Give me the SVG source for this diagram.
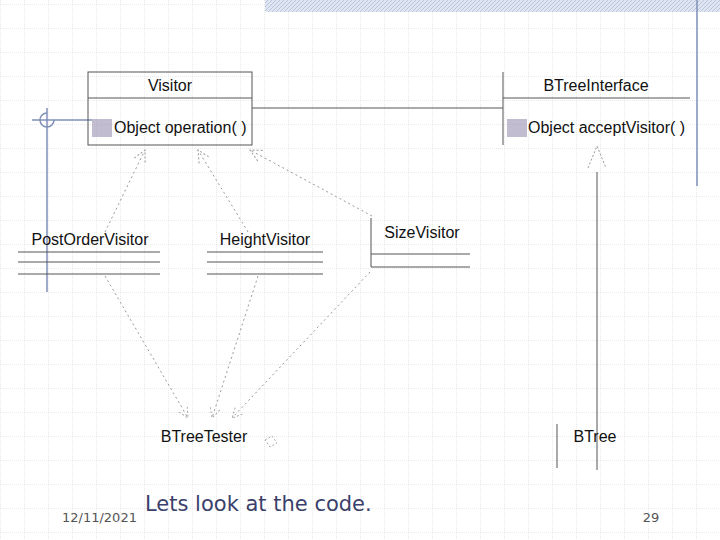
<svg xmlns="http://www.w3.org/2000/svg" width="720" height="540" viewBox="0 0 720 540">
<defs>
<pattern id="grid" width="24" height="24" patternUnits="userSpaceOnUse" x="0" y="4">
<path d="M0 0H24M0 0V24" fill="none" stroke="#d6d6d6" stroke-width="1" stroke-dasharray="1 1"/>
</pattern>
<pattern id="hatch" width="4" height="4" patternUnits="userSpaceOnUse">
<rect width="4" height="4" fill="#dfe6f2"/><path d="M0 4L4 0" stroke="#b9c6de" stroke-width="1"/>
</pattern>
<marker id="tri" markerWidth="14" markerHeight="14" refX="13" refY="7" orient="auto" markerUnits="userSpaceOnUse">
<path d="M1 1L13 7L1 13" fill="none" stroke="#999" stroke-dasharray="2 2"/>
</marker>
<marker id="open" markerWidth="12" markerHeight="12" refX="11" refY="6" orient="auto" markerUnits="userSpaceOnUse">
<path d="M1 1L11 6L1 11" fill="none" stroke="#aaa" stroke-dasharray="2 2"/>
</marker>
</defs>
<style>
.t{font-family:"Liberation Sans",Arial,sans-serif;font-size:16px;fill:#111}
.ln{stroke:#555;stroke-width:1;fill:none}
.dash{stroke:#999;stroke-width:1;fill:none;stroke-dasharray:2 3}
.blue{stroke:#7f8fb8;stroke-width:1.5;fill:none}
</style>
<rect width="720" height="540" fill="#fff"/>
<rect width="720" height="540" fill="url(#grid)"/>
<rect x="265" y="0" width="455" height="12" fill="url(#hatch)"/>
<line class="blue" x1="697" y1="0" x2="697" y2="186"/>
<g id="deco">
<line class="blue" x1="47" y1="108" x2="47" y2="292"/>
<line class="blue" x1="32" y1="120" x2="92" y2="120"/>
<path class="blue" d="M54 120A7 7 0 1 1 47 113"/>
</g>
<g id="connectors">
<line class="ln" x1="252" y1="108" x2="503" y2="108"/>
<line class="dash" x1="105" y1="232" x2="145" y2="150" marker-end="url(#tri)"/>
<line class="dash" x1="248" y1="232" x2="198" y2="150" marker-end="url(#tri)"/>
<line class="dash" x1="372" y1="216" x2="250" y2="150" marker-end="url(#tri)"/>
<line class="dash" x1="105" y1="276" x2="188" y2="418" marker-end="url(#open)"/>
<line class="dash" x1="258" y1="276" x2="212" y2="418" marker-end="url(#open)"/>
<line class="dash" x1="370" y1="272" x2="232" y2="418" marker-end="url(#open)"/>
<line class="ln" x1="597" y1="470" x2="597" y2="172" stroke="#777"/>
<path d="M588 168L597 146L606 168" fill="none" stroke="#999" stroke-dasharray="2 2"/>
<path d="M265 440L272 436L277 443L270 447Z" fill="none" stroke="#aaa" stroke-dasharray="2 2"/>
</g>
<g id="Visitor">
<rect class="ln" x="88" y="72" width="164" height="73"/>
<line class="ln" x1="88" y1="98" x2="252" y2="98"/>
<text class="t" x="170" y="91" text-anchor="middle">Visitor</text>
<rect x="92" y="119" width="20" height="18" fill="#9a8fb0" opacity="0.6"/>
<text class="t" x="114" y="133">Object operation( )</text>
</g>
<g id="BTreeInterface">
<line class="ln" x1="503" y1="72" x2="503" y2="145"/>
<line class="ln" x1="503" y1="98" x2="690" y2="98"/>
<text class="t" x="596" y="91" text-anchor="middle">BTreeInterface</text>
<rect x="507" y="119" width="20" height="18" fill="#9a8fb0" opacity="0.6"/>
<text class="t" x="528" y="133">Object acceptVisitor( )</text>
</g>
<g id="PostOrderVisitor">
<text class="t" x="90" y="245" text-anchor="middle">PostOrderVisitor</text>
<line class="ln" x1="18" y1="252" x2="160" y2="252"/>
<line class="ln" x1="18" y1="262" x2="160" y2="262"/>
<line class="ln" x1="18" y1="274" x2="160" y2="274"/>
</g>
<g id="HeightVisitor">
<text class="t" x="265" y="245" text-anchor="middle">HeightVisitor</text>
<line class="ln" x1="207" y1="252" x2="323" y2="252"/>
<line class="ln" x1="207" y1="262" x2="323" y2="262"/>
<line class="ln" x1="207" y1="274" x2="323" y2="274"/>
</g>
<g id="SizeVisitor">
<text class="t" x="422" y="238" text-anchor="middle">SizeVisitor</text>
<line class="ln" x1="371" y1="218" x2="371" y2="267"/>
<line class="ln" x1="371" y1="254" x2="470" y2="254"/>
<line class="ln" x1="371" y1="267" x2="470" y2="267"/>
</g>
<g id="BTreeTester">
<text class="t" x="204" y="442" text-anchor="middle">BTreeTester</text>
</g>
<g id="BTree">
<line class="ln" x1="557" y1="424" x2="557" y2="468"/>
<text class="t" x="595" y="442" text-anchor="middle">BTree</text>
</g>
<text x="62" y="522" font-family="'DejaVu Sans',sans-serif" font-size="13" fill="#555">12/11/2021</text>
<text x="145" y="511" font-family="'DejaVu Sans',sans-serif" font-size="21" fill="#3a3f6b">Lets look at the code.</text>
<text x="651" y="522" text-anchor="middle" font-family="'DejaVu Sans',sans-serif" font-size="13" fill="#555">29</text>
</svg>
